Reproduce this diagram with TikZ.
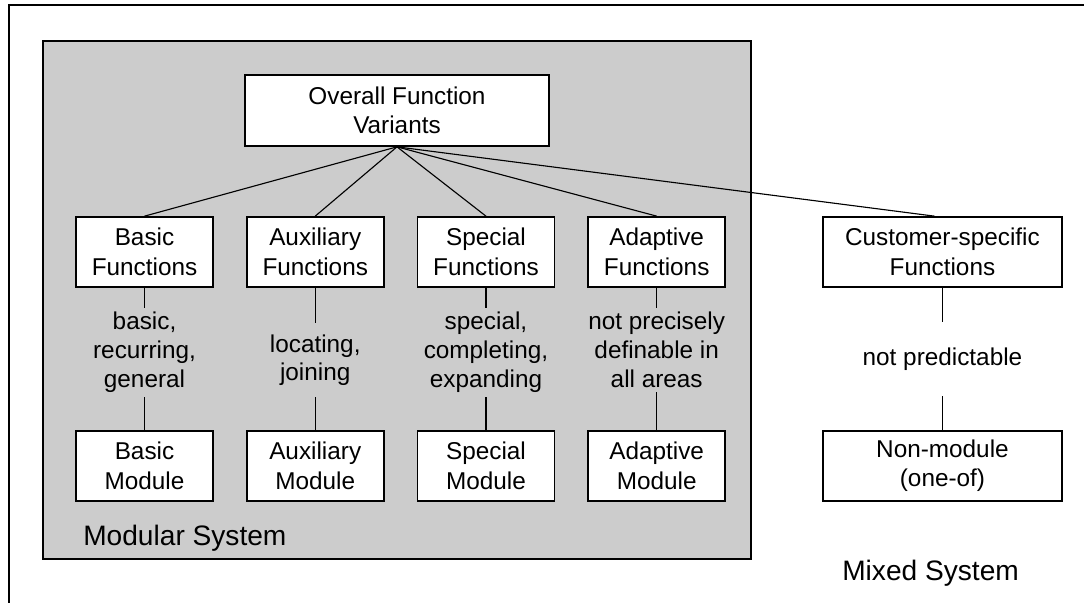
\documentclass[tikz,border=0pt]{standalone}
\usepackage{fontspec}
\setmainfont{Liberation Sans}
\usepackage{xcolor}
\usepackage{tikz}
\usetikzlibrary{positioning}
\definecolor{modgray}{RGB}{204,204,204}

\begin{document}
\begin{tikzpicture}[
      x=0.025cm, y=-0.025cm,
      node distance=3.55cm and 0.8cm,
      every node/.style={font=\fontsize{17.3}{21}\selectfont},
      funcbox/.style={draw,line width=1.2pt,fill=white,minimum width=3.425cm,minimum height=1.75cm,align=center,inner sep=0pt},
      widebox/.style={funcbox,minimum width=5.975cm},
      note/.style={align=center,inner sep=3pt,minimum height=1.85cm,font=\fontsize{17.3}{20.5}\selectfont},
      link/.style={draw,line width=0.8pt},
      syslabel/.style={anchor=base west,inner sep=0pt,font=\fontsize{20}{24}\selectfont}
      ]

      \useasboundingbox (0,0) rectangle (1084,603);
      \draw[line width=1.4pt] (9,620) -- (9,5) -- (1100,5);
      \draw[line width=1.4pt,fill=modgray] (43,41) rectangle (751,559);

      \node[funcbox,minimum width=7.6cm,minimum height=1.775cm] (overall) at (397,110.5) {Overall Function\\Variants};

      \node[funcbox] (basicfn) at (144.5,252) {Basic\\Functions};
      \node[funcbox, right=of basicfn] (auxfn) {Auxiliary\\Functions};
      \node[funcbox, right=of auxfn] (specfn) {Special\\Functions};
      \node[funcbox, right=of specfn] (adaptfn) {Adaptive\\Functions};
      \node[widebox, right=2.4cm of adaptfn] (custfn) {Customer-specific\\Functions};

      \node[funcbox, below=of basicfn] (basicmod) {Basic\\Module};
      \node[funcbox, below=of auxfn] (auxmod) {Auxiliary\\Module};
      \node[funcbox, below=of specfn] (specmod) {Special\\Module};
      \node[funcbox, below=of adaptfn] (adaptmod) {Adaptive\\Module};
      \node[widebox, below=of custfn] (onemod) {Non-module\\(one-of)};

      \node[note, below=0.5cm of basicfn] (basicnote) {basic,\\recurring,\\general};
      \node[note, below=0.875cm of auxfn] (auxnote) {locating,\\joining};
      \node[note, below=0.5cm of specfn] (specnote) {special,\\completing,\\expanding};
      \node[note, below=0.5cm of adaptfn] (adaptnote) {not precisely\\definable in\\all areas};
      \node[note, below=0.85cm of custfn] (custnote) {not predictable};

      \node[syslabel] (modsys) at (83,545) {Modular System};
      \node[syslabel] (mixsys) at (842,580) {Mixed System};

      \path (overall.south) edge[link] (basicfn.north)
      (overall.south) edge[link] (auxfn.north)
      (overall.south) edge[link] (specfn.north)
      (overall.south) edge[link] (adaptfn.north)
      (overall.south) edge[link] ([xshift=-0.2cm]custfn.north)
      (basicfn) edge[link] (basicnote)
      (basicnote) edge[link] (basicmod)
      (auxfn) edge[link] (auxnote)
      (auxnote) edge[link] (auxmod)
      (specfn) edge[link] (specnote)
      (specnote) edge[link] (specmod)
      (adaptfn) edge[link] (adaptnote)
      (adaptnote) edge[link] (adaptmod)
      (custfn) edge[link] (custnote)
      (custnote) edge[link] (onemod)
      ;
    \end{tikzpicture}
\end{document}
